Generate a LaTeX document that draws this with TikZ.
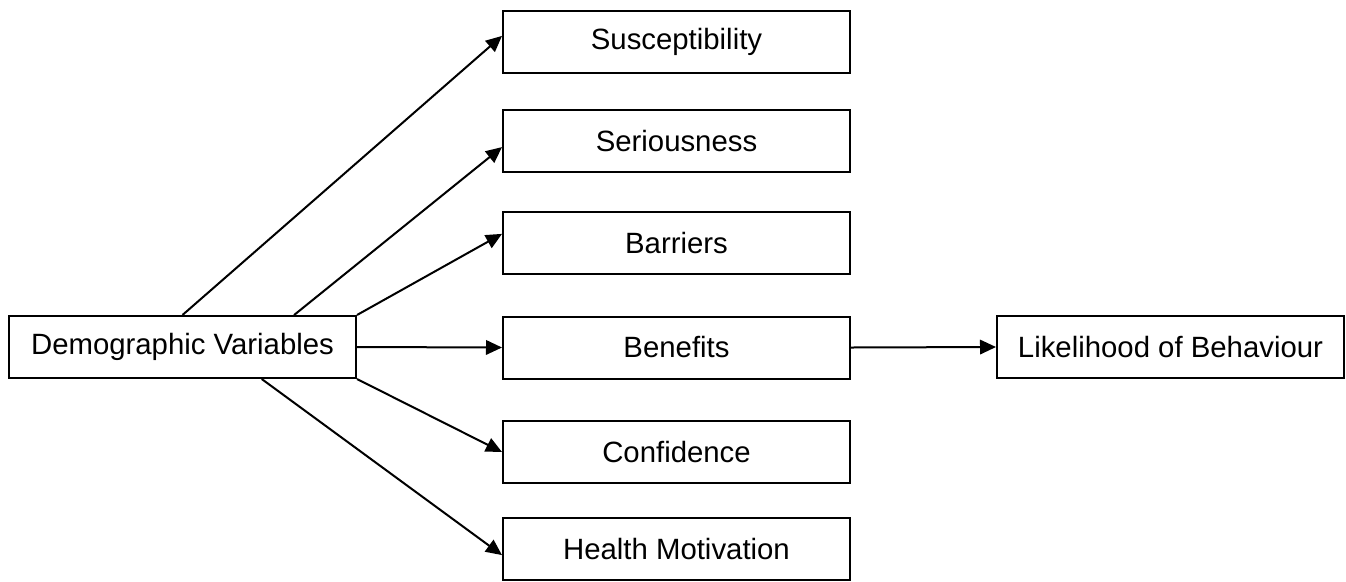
\documentclass[tikz,border=0pt]{standalone}
\usepackage{fontspec}
\setmainfont{Liberation Sans}
\usetikzlibrary{arrows}
\usetikzlibrary{arrows.meta}

\begin{document}
\begin{tikzpicture}[box/.style={draw,line width=0.04cm,minimum width=6.94cm,minimum height=1.24cm,inner sep=0pt,font=\fontsize{16.7}{20}\selectfont},
>={Triangle[length=0.32cm,width=0.29cm]}]
\useasboundingbox (0,0) rectangle (26.92,-11.62);
\node[box] (D) at (3.65,-6.94) {Demographic Variables};
\node[box] (Su) at (13.53,-0.84) {Susceptibility};
\node[box] (Se) at (13.53,-2.82) {Seriousness};
\node[box] (Ba) at (13.53,-4.86) {Barriers};
\node[box] (Be) at (13.53,-6.95) {Benefits};
\node[box] (Co) at (13.53,-9.04) {Confidence};
\node[box] (HM) at (13.53,-10.98) {Health Motivation};
\node[box] (L) at (23.41,-6.94) {Likelihood of Behaviour};

\draw[->] [line width=0.04cm] (D.north) -- (Su.178);
\draw[->] [line width=0.04cm] (D.16) -- (Se.182);
\draw[->] [line width=0.04cm] (D.north east) -- (Ba.177);
\draw[->] [line width=0.04cm] (D.east) -- (Be.west);
\draw[->] [line width=0.04cm] (D.south east) -- (Co.west);
\draw[->] [line width=0.04cm] (D.-22) -- (HM.182);

\draw[->] [line width=0.04cm] (Be.east) -- (L.west);
\end{tikzpicture}
\end{document}
